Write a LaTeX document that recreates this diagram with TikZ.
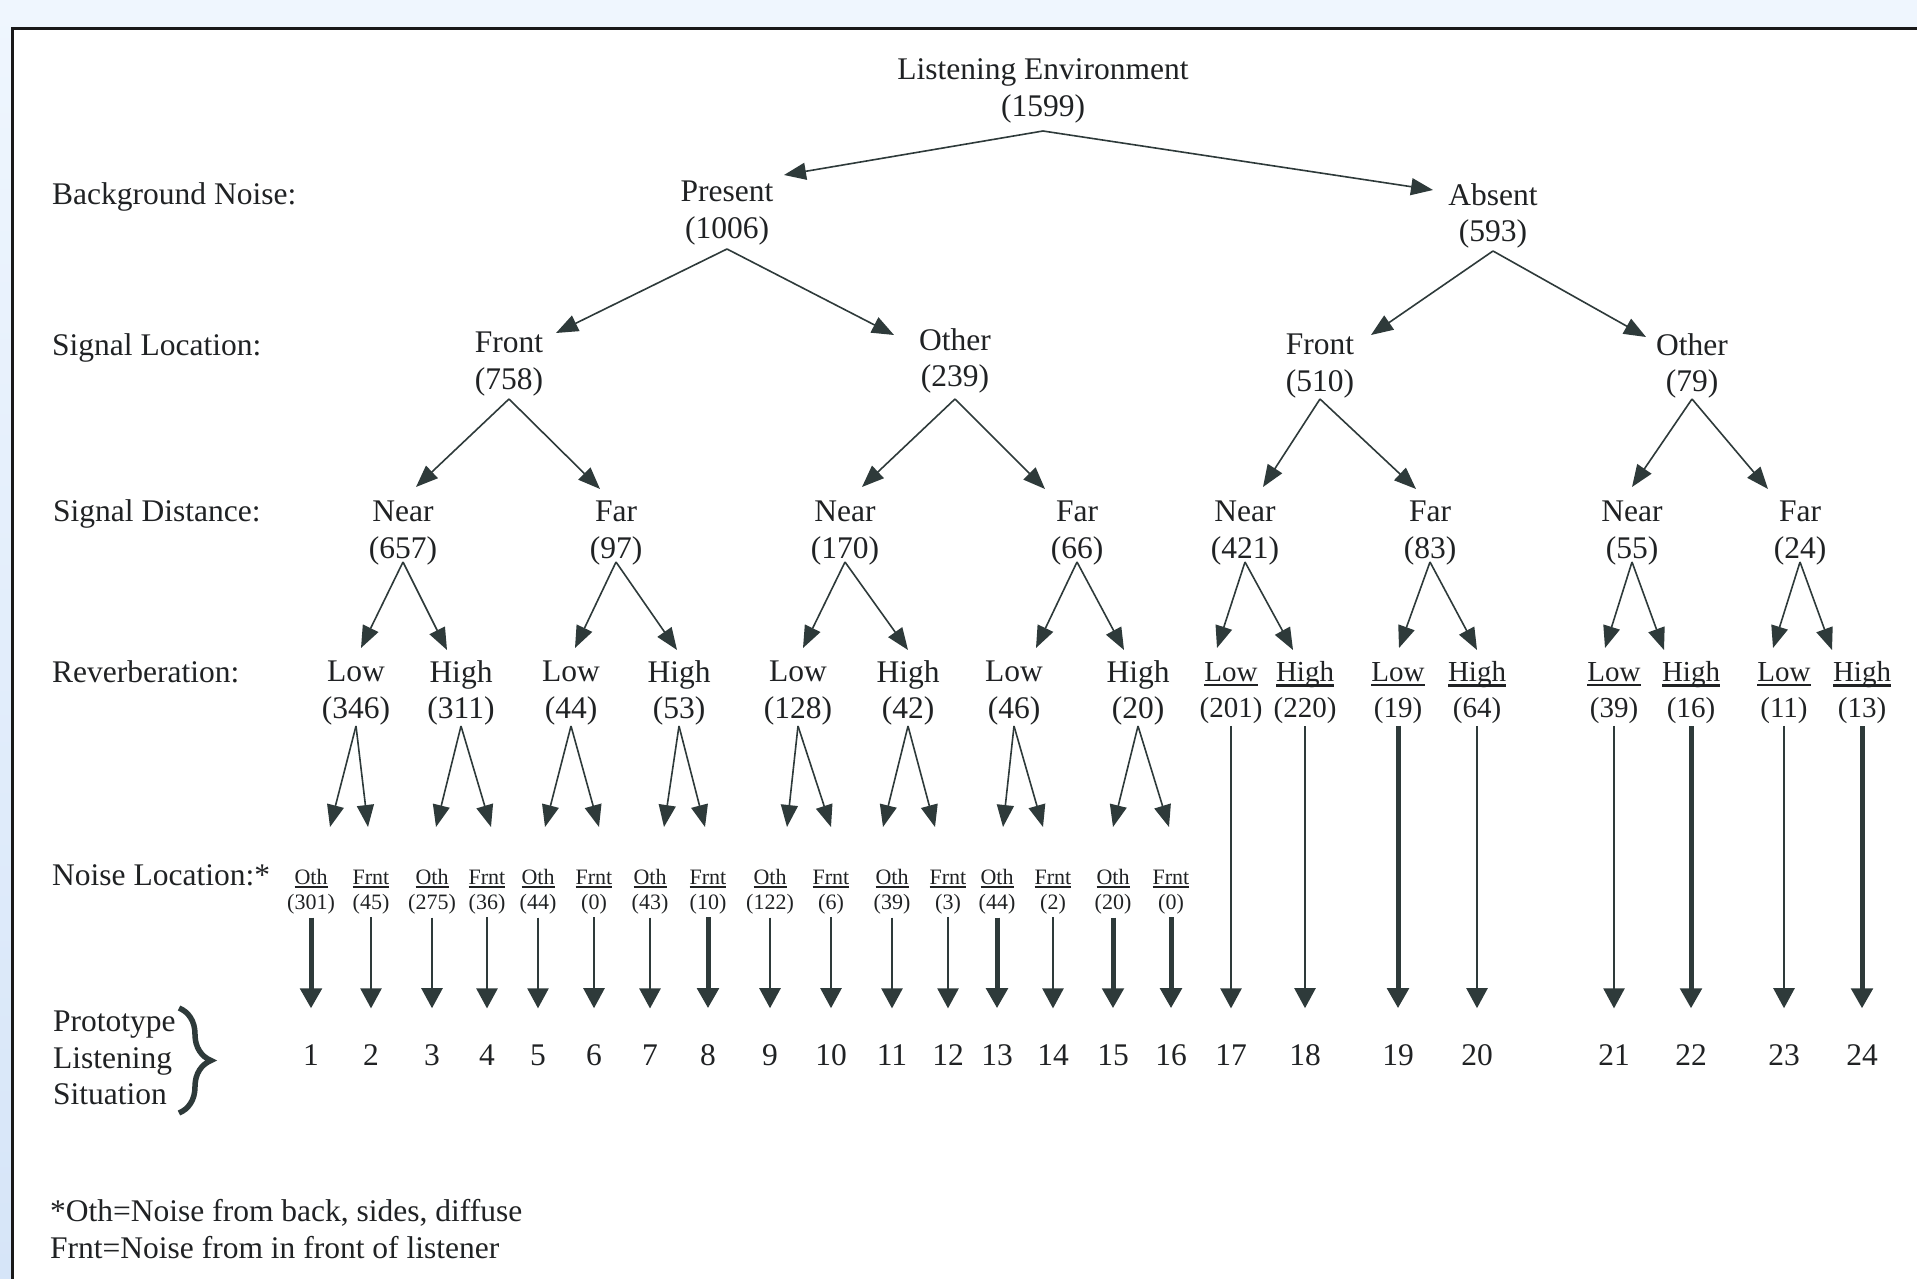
\documentclass[tikz,border=0pt]{standalone}
\usepackage{fontspec}
\setmainfont{Liberation Serif}
\usetikzlibrary{arrows.meta,calc,decorations.pathreplacing}
\definecolor{txt}{RGB}{32,34,36}
\definecolor{arrc}{RGB}{46,58,58}
\definecolor{bgtop}{RGB}{239,246,254}
\definecolor{bgbot}{RGB}{214,229,248}
\newcommand{\ulbig}[1]{\setbox0\hbox{#1}\rlap{\copy0}\smash{\raisebox{-5pt}{\rule{\wd0}{2.6pt}}}}
\newcommand{\ulsmall}[1]{\setbox0\hbox{#1}\rlap{\copy0}\smash{\raisebox{-3.6pt}{\rule{\wd0}{2.4pt}}}}
\tikzset{
  lab/.style={align=center,inner sep=0pt,text=txt,font=\fontsize{31.5}{36.7}\selectfont},
  labs/.style={align=center,inner sep=0pt,text=txt,font=\fontsize{29}{36}\selectfont},
  nlab/.style={align=center,inner sep=0pt,text=txt,font=\fontsize{22}{25}\selectfont},
  side/.style={anchor=west,inner sep=0pt,text=txt,font=\fontsize{31.5}{36.7}\selectfont},
  numl/.style={inner sep=0pt,text=txt,font=\fontsize{31.5}{36.7}\selectfont},
  tarr/.style={draw=arrc,line width=1.6pt,-{Triangle[length=22pt,width=17pt]}},
  vthin/.style={draw=arrc,line width=2.4pt,-{Triangle[length=20pt,width=21pt]},shorten >=36pt,shorten <=3pt},
  vthick/.style={draw=arrc,line width=5pt,-{Triangle[length=20pt,width=21pt]},shorten >=36pt,shorten <=3pt},
}
\begin{document}
\begin{tikzpicture}[x=1pt,y=-1pt]
\useasboundingbox (0,0) rectangle (1917,1279);
\shade[top color=bgtop,bottom color=bgbot] (0,0) rectangle (1917,1279);
\fill[white] (12,28) rectangle (1917,1279);
\draw[line width=2.6pt,black!90] (12.3,1282) -- (12.3,28.3) -- (1920,28.3);

% tree nodes
\node[lab] (root) at (1043,91) {Listening Environment\\(1599)};
\node[lab] (pres) at (727,213) {Present\\(1006)};
\node[lab] (abs) at (1493,216) {Absent\\(593)};
\node[lab] (sf1) at (509,364) {Front\\(758)};
\node[lab] (so1) at (955,361) {Other\\(239)};
\node[lab] (sf2) at (1320,366) {Front\\(510)};
\node[lab] (so2) at (1692,366) {Other\\(79)};

\node[lab] (d1) at (403,533) {Near\\(657)};
\node[lab] (d2) at (616,533) {Far\\(97)};
\node[lab] (d3) at (845,533) {Near\\(170)};
\node[lab] (d4) at (1077,533) {Far\\(66)};
\node[lab] (d5) at (1245,533) {Near\\(421)};
\node[lab] (d6) at (1430,533) {Far\\(83)};
\node[lab] (d7) at (1632,533) {Near\\(55)};
\node[lab] (d8) at (1800,533) {Far\\(24)};

\node[lab] (r1) at (356,693) {Low\\(346)};
\node[lab] (r2) at (461,693) {High\\(311)};
\node[lab] (r3) at (571,693) {Low\\(44)};
\node[lab] (r4) at (679,693) {High\\(53)};
\node[lab] (r5) at (798,693) {Low\\(128)};
\node[lab] (r6) at (908,693) {High\\(42)};
\node[lab] (r7) at (1014,693) {Low\\(46)};
\node[lab] (r8) at (1138,693) {High\\(20)};
\node[labs] (r9) at (1231,693) {\ulbig{Low}\\(201)};
\node[labs] (r10) at (1305,693) {\ulbig{High}\\(220)};
\node[labs] (r11) at (1398,693) {\ulbig{Low}\\(19)};
\node[labs] (r12) at (1477,693) {\ulbig{High}\\(64)};
\node[labs] (r13) at (1614,693) {\ulbig{Low}\\(39)};
\node[labs] (r14) at (1691,693) {\ulbig{High}\\(16)};
\node[labs] (r15) at (1784,693) {\ulbig{Low}\\(11)};
\node[labs] (r16) at (1862,693) {\ulbig{High}\\(13)};

% noise location nodes
\foreach \i/\x/\a/\b in {1/311/Oth/301,2/371/Frnt/45,3/432/Oth/275,4/487/Frnt/36,
  5/538/Oth/44,6/594/Frnt/0,7/650/Oth/43,8/708/Frnt/10,9/770/Oth/122,10/831/Frnt/6,
  11/892/Oth/39,12/948/Frnt/3,13/997/Oth/44,14/1053/Frnt/2,15/1113/Oth/20,16/1171/Frnt/0}
  \node[nlab] (nl\i) at (\x,892) {\ulsmall{\a}\\(\b)};

% numbers
\foreach \i/\x in {1/311,2/371,3/432,4/487,5/538,6/594,7/650,8/708,9/770,10/831,
  11/892,12/948,13/997,14/1053,15/1113,16/1171,17/1231,18/1305,19/1398,20/1477,
  21/1614,22/1691,23/1784,24/1862}
  \node[numl] (n\i) at (\x,1055) {\i};

% side labels
\node[side] (bn) at (52,197) {Background Noise:};
\node[side] (sl) at (52,348) {Signal Location:};
\node[side] (sd) at (53,514) {Signal Distance:};
\node[side] (rv) at (52,672) {Reverberation:};
\node[side] (nloc) at (52,875) {Noise Location:*};
\node[side,align=left] (proto) at (53,1058) {Prototype\\Listening\\Situation};
\draw[arrc,line width=5.5pt,decorate,decoration={brace,amplitude=32pt}] (179,1008) -- (179,1113);
\node[side,align=left] (fn) at (50,1229) {*Oth=Noise from back, sides, diffuse\\Frnt=Noise from in front of listener};

% tree arrows
\draw[tarr] ($(root)+(0,40)$) -- ($(pres)+(57,-38)$);
\draw[tarr] ($(root)+(0,40)$) -- ($(abs)+(-60,-26)$);
\draw[tarr] ($(pres)+(0,36)$) -- ($(sf1)+(47,-31)$);
\draw[tarr] ($(pres)+(0,36)$) -- ($(so1)+(-61,-26)$);
\draw[tarr] ($(abs)+(0,35)$) -- ($(sf2)+(51,-31)$);
\draw[tarr] ($(abs)+(0,35)$) -- ($(so2)+(-46,-29)$);
\draw[tarr] ($(sf1)+(0,35)$) -- ($(d1)+(13,-46)$);
\draw[tarr] ($(sf1)+(0,35)$) -- ($(d2)+(-16,-44)$);
\draw[tarr] ($(so1)+(0,38)$) -- ($(d3)+(17,-46)$);
\draw[tarr] ($(so1)+(0,38)$) -- ($(d4)+(-32,-44)$);
\draw[tarr] ($(sf2)+(0,33)$) -- ($(d5)+(18,-46)$);
\draw[tarr] ($(sf2)+(0,33)$) -- ($(d6)+(-14,-44)$);
\draw[tarr] ($(so2)+(0,33)$) -- ($(d7)+(0,-46)$);
\draw[tarr] ($(so2)+(0,33)$) -- ($(d8)+(-32,-44)$);

\foreach \p/\a/\ax/\b/\bx in {d1/r1/5/r2/-14,d2/r3/4/r4/-2,d3/r5/5/r6/0,d4/r7/22/r8/-14,
  d5/r9/-14/r10/-12,d6/r11/1/r12/0,d7/r13/-9/r14/-27,d8/r15/-11/r16/-30}{
  \draw[tarr] ($(\p)+(0,29)$) -- ($(\a)+(\ax,-45)$);
  \draw[tarr] ($(\p)+(0,29)$) -- ($(\b)+(\bx,-43)$);
}
\foreach \p/\a/\ax/\b/\bx in {r1/nl1/19/nl2/-3,r2/nl3/4/nl4/4,r3/nl5/7/nl6/5,r4/nl7/14/nl8/-3,
  r5/nl9/17/nl10/0,r6/nl11/-9/nl12/-13,r7/nl13/6/nl14/-10,r8/nl15/0/nl16/-2}{
  \draw[tarr] ($(\p)+(0,33)$) -- ($(\a)+(\ax,-65)$);
  \draw[tarr] ($(\p)+(0,33)$) -- ($(\b)+(\bx,-65)$);
}

% vertical arrows
\foreach \i in {2,3,4,5,6,7,9,10,11,12,14}
  \draw[vthin] (nl\i.south) -- (n\i.north);
\foreach \i in {1,8,13,15,16}
  \draw[vthick] (nl\i.south) -- (n\i.north);
\foreach \r/\n in {r9/17,r10/18,r12/20,r13/21,r15/23}
  \draw[vthin,shorten <=2pt] (\r.south) -- (n\n.north);
\foreach \r/\n in {r11/19,r14/22,r16/24}
  \draw[vthick,shorten <=2pt] (\r.south) -- (n\n.north);
\end{tikzpicture}
\end{document}
